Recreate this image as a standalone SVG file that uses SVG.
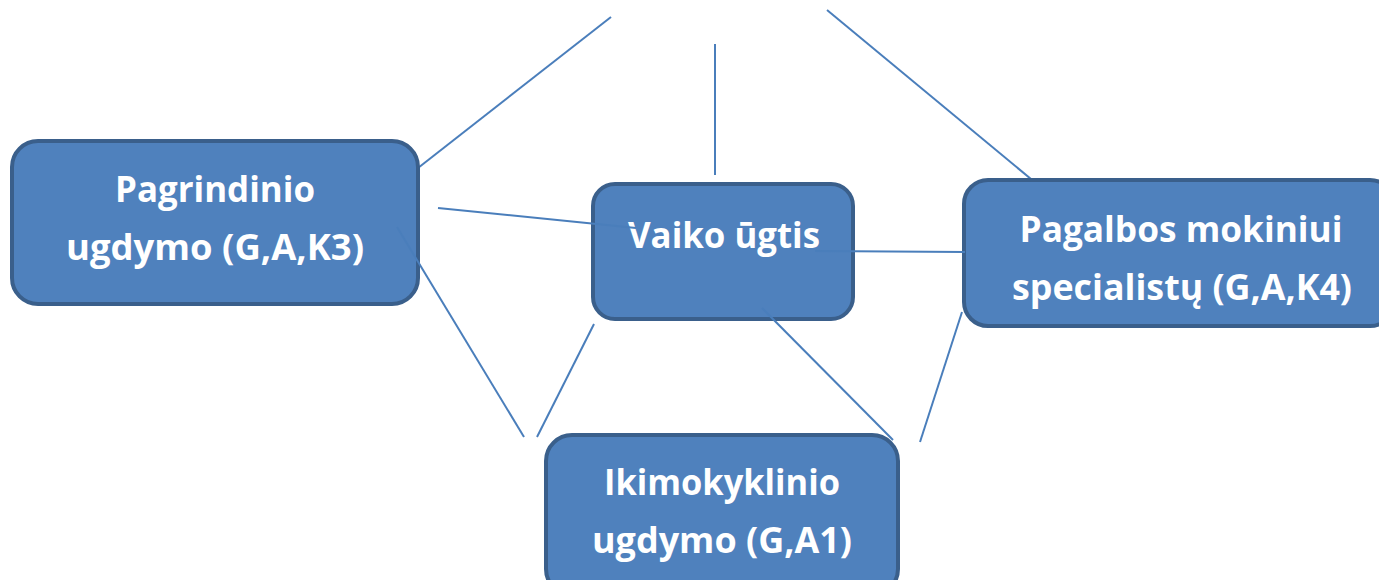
<svg xmlns="http://www.w3.org/2000/svg" width="1379" height="580" viewBox="0 0 1379 580">
<style>
.box{fill:#4F81BD;stroke:#3A5F8B;stroke-width:4}
.lbl{font-family:"Open Sans","Liberation Sans",sans-serif;font-weight:bold;font-size:36px;fill:#FFFFFF;text-anchor:middle}
.ln{stroke:#4A7EBB;stroke-width:2;fill:none}
</style>
<rect width="1379" height="580" fill="#FFFFFF"/>
<g id="connectors-back">
<line class="ln" x1="418" y1="168" x2="611" y2="17"/>
<line class="ln" x1="827" y1="10" x2="1037" y2="184"/>
<line class="ln" x1="715" y1="44" x2="715" y2="175"/>
<line class="ln" x1="594" y1="324" x2="537" y2="437"/>
<line class="ln" x1="962" y1="312" x2="920" y2="442"/>
</g>
<g id="node-pagrindinio">
<rect class="box" x="12" y="141" width="406" height="163" rx="26"/>
<text class="lbl" x="215" y="202" textLength="200" lengthAdjust="spacingAndGlyphs">Pagrindinio</text>
<text class="lbl" x="215" y="260" textLength="298" lengthAdjust="spacingAndGlyphs">ugdymo (G,A,K3)</text>
</g>
<g id="node-vaiko">
<rect class="box" x="593" y="184" width="260" height="135" rx="22"/>
<text class="lbl" x="724" y="248" textLength="192" lengthAdjust="spacingAndGlyphs">Vaiko ūgtis</text>
</g>
<g id="node-pagalbos">
<rect class="box" x="964" y="180" width="430" height="146" rx="24"/>
<text class="lbl" x="1181" y="242" textLength="323" lengthAdjust="spacingAndGlyphs">Pagalbos mokiniui</text>
<text class="lbl" x="1182" y="300" textLength="340" lengthAdjust="spacingAndGlyphs">specialistų (G,A,K4)</text>
</g>
<g id="node-ikimokyklinio">
<rect class="box" x="546" y="435" width="352" height="160" rx="26"/>
<text class="lbl" x="722" y="495" textLength="236" lengthAdjust="spacingAndGlyphs">Ikimokyklinio</text>
<text class="lbl" x="722" y="553" textLength="260" lengthAdjust="spacingAndGlyphs">ugdymo (G,A1)</text>
</g>
<g id="connectors">
<line class="ln" x1="438" y1="208" x2="636" y2="228"/>
<line class="ln" x1="815" y1="251" x2="965" y2="252"/>
<line class="ln" x1="762" y1="308" x2="893" y2="440"/>
<line class="ln" x1="397" y1="227" x2="524" y2="437"/>
</g>
</svg>
